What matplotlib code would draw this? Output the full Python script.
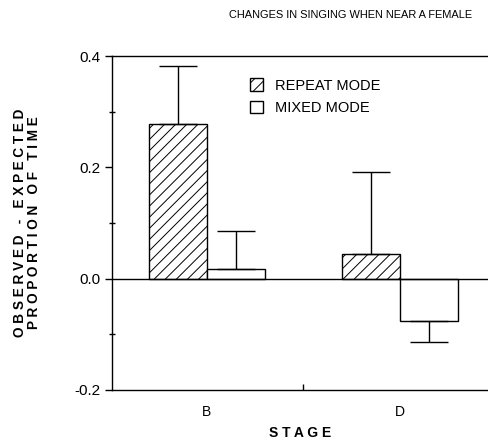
import matplotlib.pyplot as plt
from matplotlib.patches import Patch
import numpy as np

plt.rcParams['font.family'] = ['Liberation Sans', 'DejaVu Sans']
plt.rcParams['hatch.linewidth'] = 0.7

# data
stages = ['B', 'D']
repeat_mode = [0.278, 0.045]
repeat_err = [0.105, 0.147]
mixed_mode = [0.018, -0.076]
mixed_err = [0.067, 0.038]

x = np.arange(len(stages))
w = 0.3

fig = plt.figure(figsize=(4.89, 4.45), dpi=100)
ax = fig.add_axes([0.229, 0.124, 0.771, 0.75])

# one-sided error bars (away from zero)
rep_yerr = [np.zeros(2), repeat_err]
mix_yerr = [[0, mixed_err[1]], [mixed_err[0], 0]]

ax.bar(x - w / 2, repeat_mode, w, color='white', edgecolor='black',
       linewidth=1.0, hatch='///', yerr=rep_yerr,
       error_kw=dict(ecolor='black', elinewidth=1.0, capsize=14, capthick=1.0))
ax.bar(x + w / 2, mixed_mode, w, color='white', edgecolor='black',
       linewidth=1.0, yerr=mix_yerr,
       error_kw=dict(ecolor='black', elinewidth=1.0, capsize=14, capthick=1.0))

ax.axhline(0, color='black', linewidth=1.0)

ax.set_xlim(-0.49, 1.46)
ax.set_ylim(-0.2, 0.4)
ax.set_yticks([-0.2, 0.0, 0.2, 0.4])
ax.set_yticklabels(['-0.2', '0.0', '0.2', '0.4'], fontsize=11)
ax.set_yticks([-0.1, 0.1, 0.3], minor=True)
ax.tick_params(axis='y', which='major', direction='out', length=5, width=1)
ax.tick_params(axis='y', which='minor', direction='inout', length=5, width=1)

ax.set_xticks(x)
ax.set_xticklabels(stages, fontsize=10)
ax.tick_params(axis='x', which='major', length=0, pad=11)
ax.set_xticks([0.5], minor=True)
ax.tick_params(axis='x', which='minor', direction='in', length=4, width=1)

ax.spines['right'].set_visible(False)
for s in ['left', 'bottom', 'top']:
    ax.spines[s].set_linewidth(1.0)

ax.set_xlabel('S T A G E', fontsize=10, fontweight='bold', labelpad=5)
ax.set_ylabel('O B S E R V E D   -   E X P E C T E D\nP R O P O R T I O N   O F   T I M E',
              fontsize=9.8, fontweight='bold', labelpad=24, linespacing=1.0)

fig.text(0.716, 0.966, 'CHANGES IN SINGING WHEN NEAR A FEMALE',
         ha='center', va='center', fontsize=7.9)

handles = [Patch(facecolor='white', edgecolor='black', hatch='///', linewidth=1.0),
           Patch(facecolor='white', edgecolor='black', linewidth=1.0)]
fig.legend(handles, ['REPEAT MODE', 'MIXED MODE'], frameon=False,
           loc='upper left', bbox_to_anchor=(0.497, 0.84), fontsize=10.5,
           handlelength=0.9, handleheight=0.9, handletextpad=0.8,
           labelspacing=0.55, borderpad=0)

fig.savefig('out.png', dpi=100)
